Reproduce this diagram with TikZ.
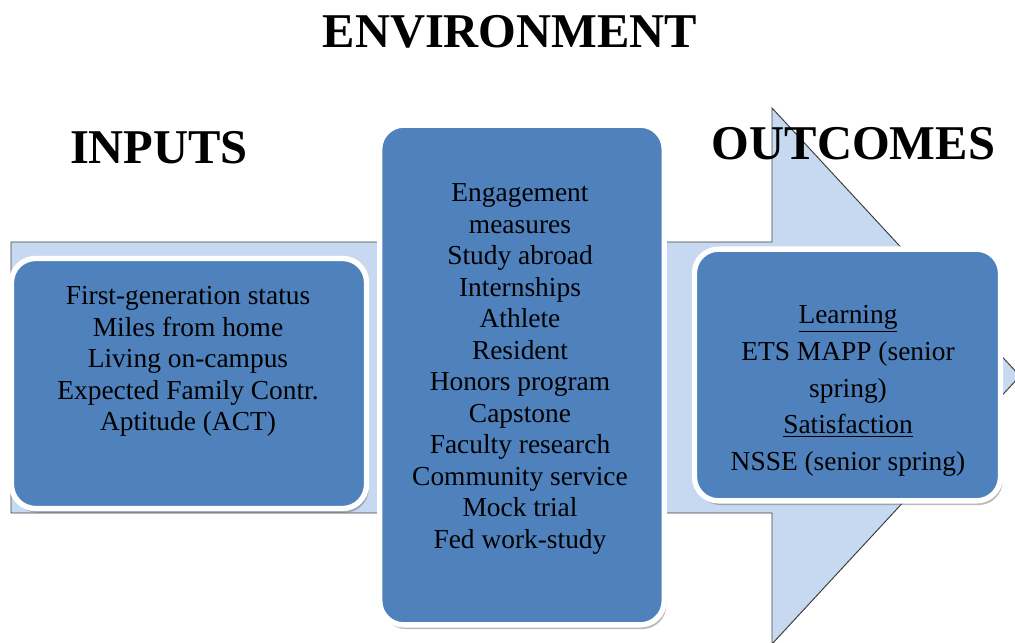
\documentclass[tikz,border=0pt]{standalone}
\usepackage{fontspec}
\setmainfont{Liberation Serif}
\usetikzlibrary{shadows}

\definecolor{stageblue}{RGB}{79,129,189}
\definecolor{arrowblue}{RGB}{198,217,241}

\tikzset{
  stage/.style={draw=white, line width=3.8pt, fill=stageblue, rounded corners=0.6cm,
    inner sep=0pt, outer sep=0pt,
    drop shadow={shadow xshift=1.5pt, shadow yshift=-3pt, fill=black!60, opacity=0.45}},
  heading/.style={anchor=base, font=\fontsize{34.5}{40}\selectfont\bfseries},
  items/.style={align=center, text=black, font=\fontsize{19.5}{22.4}\selectfont}
}

\begin{document}
\begin{tikzpicture}[x=0.025cm, y=-0.025cm]
  \useasboundingbox (0,0) rectangle (1015,643);
  % the wide arrow behind the stages
  \coordinate (T1) at (11,242);
  \coordinate (T2) at (11,513);
  \coordinate (H1) at (772,108);
  \coordinate (H2) at (772,644);
  \coordinate (tip) at (1020,376);
  \draw[fill=arrowblue, draw=black!75, line width=0.7pt]
    (T1) -- (H1 |- T1) -- (H1) -- (tip) -- (H2) -- (H2 |- T2) -- (T2) -- cycle;

  \node[stage, minimum width=8.875cm, minimum height=6.25cm] (inputs) at (189,383.5) {};
  \node[stage, minimum width=7.11cm, minimum height=12.49cm] (environment) at (522,375) {};
  \node[stage, minimum width=7.65cm, minimum height=6.29cm] (outcomes) at (847.5,375) {};

  \node[items] (inputs-list) at (188,361.5) {First-generation status\\Miles from home\\
    Living on-campus\\Expected Family Contr.\\Aptitude (ACT)};
  \node[items] (environment-list) at (520,369) {Engagement\\measures\\Study abroad\\
    Internships\\Athlete\\Resident\\Honors program\\Capstone\\Faculty research\\
    Community service\\Mock trial\\Fed work-study};
  \node[items, font=\fontsize{19.5}{26.1}\selectfont] (outcomes-list) at (848,391)
    {\underline{Learning}\\ETS MAPP (senior\\spring)\\\underline{Satisfaction}\\
    NSSE (senior spring)};

  \node[heading] (env-title) at (510,48) {ENVIRONMENT};
  \node[heading] (in-title) at (159,164) {INPUTS};
  \node[heading] (out-title) at (853.5,160) {OUTCOMES};
\end{tikzpicture}
\end{document}
